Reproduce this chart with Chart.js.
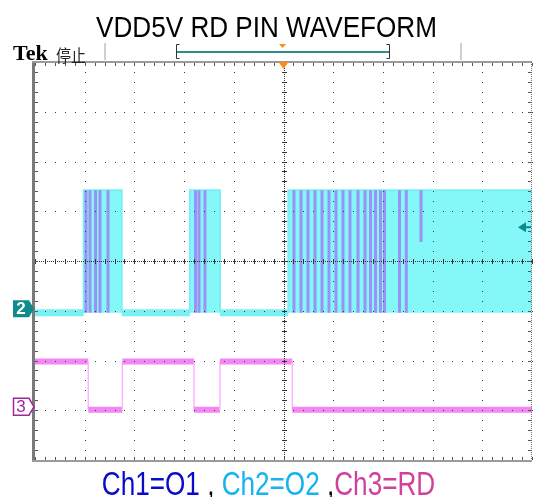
<!DOCTYPE html>
<html>
<head>
<meta charset="utf-8">
<title>VDD5V RD PIN WAVEFORM</title>
<script src="https://cdn.jsdelivr.net/npm/chart.js@4.4.1/dist/chart.umd.min.js"></script>
<style>
  html, body { margin: 0; padding: 0; background: #fff; }
  #wrap { position: relative; width: 533px; height: 497px; overflow: hidden; }
  #scope { position: absolute; left: 0; top: 0; }
  .txt { position: absolute; white-space: nowrap; line-height: 1; }
  #titulo { left: 0; width: 533px; top: 10px; text-align: center; color: #000;
            font: 30px 'Liberation Sans', Arial, sans-serif; transform: scaleX(0.87); }
  #tek { left: 13px; top: 40px; font: bold 22px 'Liberation Serif', 'Times New Roman', serif; color: #000; }
  #estado { left: 56px; top: 43px; font: 15px 'Noto Sans CJK SC', sans-serif; color: #222; transform: scaleY(1.1); transform-origin: left top; }
  #pie { left: 2px; width: 533px; top: 465px; text-align: center;
         font: 33.5px 'Liberation Sans', Arial, sans-serif; transform: scaleX(0.78); }
</style>
</head>
<body>
<div id="wrap">
  <canvas id="scope" width="533" height="497"></canvas>
  <div class="txt" id="titulo">VDD5V RD PIN WAVEFORM</div>
  <div class="txt" id="tek">Tek</div>
  <div class="txt" id="estado">停止</div>
  <div class="txt" id="pie"><span style="color:#0a0acd">Ch1=O1</span> , <span style="color:#14b4f0">Ch2=O2</span> ,<span style="color:#d2409e">Ch3=RD</span></div>
</div>
<script>
// ==========================================
// DATOS (en divisiones: x 0..10, y -4..4)
// ==========================================
// Ch2 = O2 (cian): envolvente de las ráfagas
const ch2X = [0, 0.98, 0.98, 1.744, 1.744, 3.119, 3.119, 3.722, 3.722, 5.097, 5.097, 10];
const ch2Y = [-1.04, -1.04, 1.42, 1.42, -1.04, -1.04, 1.42, 1.42, -1.04, -1.04, 1.42, 1.42];

// Ch3 = RD (rosa)
const ch3X = [0, 1.072, 1.072, 1.757, 1.757, 3.199, 3.199, 3.722, 3.722, 5.177, 5.177, 10];
const ch3Y = [-2.02, -2.02, -2.99, -2.99, -2.02, -2.02, -2.99, -2.99, -2.02, -2.02, -2.99, -2.99];

// Ch1 = O1 (violeta): pulsos visibles dentro de las ráfagas
const ch1X = [1.026, 1.107, 1.217, 1.308, 1.469,
              3.229, 3.300, 3.420,
              5.211, 5.352, 5.493, 5.634, 5.775, 5.915, 6.056, 6.197, 6.338,
              6.499, 6.640, 6.751, 6.851, 6.952, 7.032, 7.334, 7.471, 7.767];
const ch1Lo = [-1.04, -1.04, -1.04, -1.04, -1.04,
               -1.04, -1.04, -1.04,
               -1.04, -1.04, -1.04, -1.04, -1.04, -1.04, -1.04, -1.04, -1.04,
               -1.04, -1.04, -1.04, -1.04, -1.04, -1.04, -1.04, -1.04, 0.38];
const ch1Hi = [1.42, 1.42, 1.42, 1.42, 1.42,
               1.42, 1.42, 1.42,
               1.42, 1.42, 1.42, 1.42, 1.42, 1.42, 1.42, 1.42, 1.42,
               1.42, 1.42, 1.42, 1.42, 1.42, 1.42, 1.42, 1.42, 1.42];

const trigPos = 5;      // posición del disparo (div)
const trigLevel = 0.68; // nivel del disparo (div)

// ==========================================
// PUNTOS
// ==========================================
function puntos(xs, ys) {
    return xs.map((x, i) => ({ x: x, y: ys[i] }));
}

const ch1Pts = [];
ch1X.forEach((x, i) => {
    ch1Pts.push({ x: x, y: ch1Lo[i] }, { x: x, y: ch1Hi[i] }, { x: x, y: null });
});

const vertical = ctx => ctx.p0.parsed.x === ctx.p1.parsed.x;

// ==========================================
// RETÍCULA TEKTRONIX
// ==========================================
const reticula = {
    id: 'reticula',
    afterDatasetsDraw(chart) {
        const { ctx, chartArea: ca, scales: { x: xs, y: ys } } = chart;
        ctx.save();

        // puntos de las divisiones mayores
        ctx.fillStyle = '#3a3a3a';
        for (let i = 1; i < 10; i++) {
            if (i === 5) continue;
            const px = Math.round(xs.getPixelForValue(i));
            for (let k = 0; k <= 40; k++) {
                const py = Math.round(ys.getPixelForValue(-4 + k * 0.2));
                ctx.fillRect(px, py, 1, 1);
            }
        }
        for (let j = -3; j <= 3; j++) {
            if (j === 0) continue;
            const py = Math.round(ys.getPixelForValue(j));
            for (let k = 0; k <= 50; k++) {
                const px = Math.round(xs.getPixelForValue(k * 0.2));
                ctx.fillRect(px, py, 1, 1);
            }
        }

        // cruz central
        const cx = Math.round(xs.getPixelForValue(5));
        const cy = Math.round(ys.getPixelForValue(0));
        ctx.fillStyle = '#333';
        for (let px = ca.left; px < ca.right; px += 2) ctx.fillRect(px, cy, 1, 1);
        for (let py = ca.top; py < ca.bottom; py += 2) ctx.fillRect(cx, py, 1, 1);
        for (let k = 0; k <= 50; k++) {
            const px = Math.round(xs.getPixelForValue(k * 0.2));
            ctx.fillRect(px, cy - 2, 1, 5);
        }
        for (let k = 0; k <= 40; k++) {
            const py = Math.round(ys.getPixelForValue(-4 + k * 0.2));
            ctx.fillRect(cx - 2, py, 5, 1);
        }

        // marcas en los bordes
        ctx.fillStyle = '#555';
        for (let k = 0; k <= 50; k++) {
            const px = Math.round(xs.getPixelForValue(k * 0.2));
            ctx.fillRect(px, ca.top + 1, 1, 3);
            ctx.fillRect(px, ca.bottom - 3, 1, 3);
        }
        for (let k = 0; k <= 40; k++) {
            const py = Math.round(ys.getPixelForValue(-4 + k * 0.2));
            ctx.fillRect(ca.left, py, 3, 1);
            ctx.fillRect(ca.right - 4, py, 3, 1);
        }

        // marco
        ctx.fillStyle = '#7a7a7a';
        ctx.fillRect(ca.left - 3, ca.top - 1, 3, ca.bottom - ca.top + 3);
        ctx.fillStyle = '#9a9a9a';
        ctx.fillRect(ca.left - 3, ca.top - 1, ca.right - ca.left + 3, 2);
        ctx.fillRect(ca.left - 3, ca.bottom, ca.right - ca.left + 3, 2);
        ctx.fillStyle = '#777';
        for (let py = ca.top; py < ca.bottom; py += 2) ctx.fillRect(ca.right - 1, py, 1, 1);
        ctx.restore();
    }
};

// ==========================================
// MARCADORES (disparo, canales, barra superior)
// ==========================================
const marcadores = {
    id: 'marcadores',
    afterDraw(chart) {
        const { ctx, chartArea: ca, scales: { x: xs, y: ys } } = chart;
        ctx.save();

        // barra superior
        ctx.fillStyle = '#cfcfcf';
        ctx.fillRect(104, 43, 2, 17);
        ctx.fillRect(460, 43, 2, 17);
        ctx.strokeStyle = '#333';
        ctx.lineWidth = 1;
        ctx.beginPath();
        ctx.moveTo(179.5, 44.5); ctx.lineTo(176.5, 44.5); ctx.lineTo(176.5, 58.5); ctx.lineTo(179.5, 58.5);
        ctx.moveTo(386.5, 44.5); ctx.lineTo(389.5, 44.5); ctx.lineTo(389.5, 58.5); ctx.lineTo(386.5, 58.5);
        ctx.stroke();
        ctx.fillStyle = '#2a8f8f';
        ctx.fillRect(177, 51, 212, 2);
        ctx.fillStyle = '#ff8a14';
        ctx.beginPath();
        ctx.moveTo(279, 44); ctx.lineTo(286, 44); ctx.lineTo(282.5, 48); ctx.closePath();
        ctx.fill();

        // posición del disparo
        const tx = xs.getPixelForValue(trigPos);
        ctx.beginPath();
        ctx.moveTo(tx - 5, ca.top); ctx.lineTo(tx + 5, ca.top); ctx.lineTo(tx, ca.top + 7); ctx.closePath();
        ctx.fill();

        // nivel del disparo
        const ty = ys.getPixelForValue(trigLevel);
        ctx.fillStyle = '#0a8a8c';
        ctx.beginPath();
        ctx.moveTo(ca.right - 14, ty); ctx.lineTo(ca.right - 6, ty - 5); ctx.lineTo(ca.right - 6, ty + 5); ctx.closePath();
        ctx.fill();
        ctx.fillRect(ca.right - 7, ty - 1, 6, 2);

        // marcador canal 2
        const y2 = ys.getPixelForValue(ch2Y[0]) - 4;
        ctx.fillStyle = '#0f8b8d';
        ctx.beginPath();
        ctx.moveTo(13, y2 - 8.5); ctx.lineTo(29, y2 - 8.5); ctx.lineTo(34, y2);
        ctx.lineTo(29, y2 + 8.5); ctx.lineTo(13, y2 + 8.5); ctx.closePath();
        ctx.fill();
        ctx.fillStyle = '#fff';
        ctx.font = 'bold 17px "Liberation Sans", Arial, sans-serif';
        ctx.textAlign = 'center';
        ctx.textBaseline = 'middle';
        ctx.fillText('2', 21, y2 + 1);

        // marcador canal 3
        const y3 = ys.getPixelForValue(ch3Y[2]) - 3;
        ctx.fillStyle = '#fff';
        ctx.strokeStyle = '#a0269f';
        ctx.lineWidth = 1.5;
        ctx.beginPath();
        ctx.moveTo(13.5, y3 - 8.5); ctx.lineTo(29, y3 - 8.5); ctx.lineTo(34, y3);
        ctx.lineTo(29, y3 + 8.5); ctx.lineTo(13.5, y3 + 8.5); ctx.closePath();
        ctx.fill();
        ctx.stroke();
        ctx.fillStyle = '#a0269f';
        ctx.font = '17px "Liberation Sans", Arial, sans-serif';
        ctx.fillText('3', 21, y3 + 1);
        ctx.restore();
    }
};

// ==========================================
// GRÁFICA
// ==========================================
new Chart(document.getElementById('scope'), {
    type: 'line',
    data: {
        datasets: [
            {
                label: 'Ch3=RD',
                data: puntos(ch3X, ch3Y),
                order: 0,
                borderColor: '#f286f2',
                borderWidth: 6,
                fill: false,
                segment: {
                    borderWidth: ctx => vertical(ctx) ? 1.5 : 6,
                    borderColor: ctx => vertical(ctx) ? '#ffb4ff' : '#f286f2'
                }
            },
            {
                label: 'Ch1=O1',
                data: ch1Pts,
                order: 1,
                borderColor: '#9a92f4',
                borderWidth: 3,
                fill: false,
                spanGaps: false
            },
            {
                label: 'Ch2=O2',
                data: puntos(ch2X, ch2Y),
                order: 2,
                borderColor: '#7af0f4',
                backgroundColor: '#84f8f8',
                borderWidth: 2,
                fill: { value: ch2Y[0] },
                segment: {
                    borderWidth: ctx => (!vertical(ctx) && ctx.p0.parsed.y === ch2Y[0]) ? 7 : 2
                }
            }
        ]
    },
    options: {
        responsive: false,
        animation: false,
        layout: { padding: { left: 35, top: 62, right: 1, bottom: 37 } },
        plugins: {
            legend: { display: false },
            tooltip: { enabled: false },
            title: { display: false }
        },
        elements: { point: { radius: 0 }, line: { tension: 0 } },
        scales: {
            x: { type: 'linear', min: 0, max: 10, display: false },
            y: { type: 'linear', min: -4, max: 4, display: false }
        }
    },
    plugins: [reticula, marcadores]
});
</script>
</body>
</html>
